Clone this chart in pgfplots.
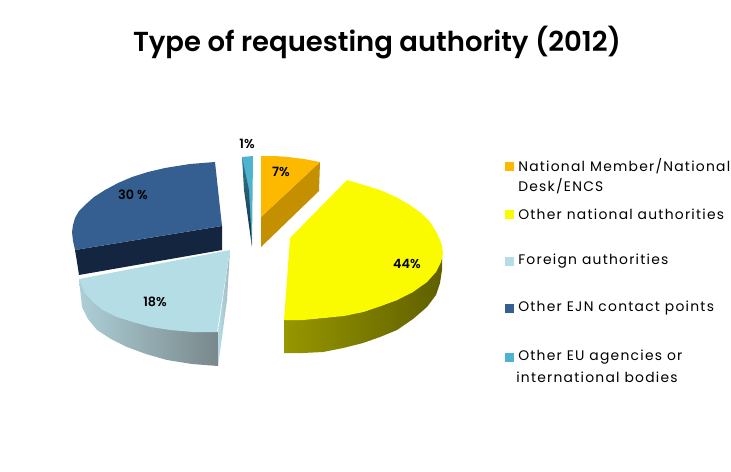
\documentclass[border=0pt]{standalone}
\usepackage{pgfplots}
\pgfplotsset{compat=1.18}
\usepackage{fontspec}
\setmainfont{Poppins}
\newfontfamily\titlefont{Poppins SemiBold}
\newfontfamily\legfont[LetterSpace=9]{Poppins}
\definecolor{cOrange}{HTML}{FDB900}
\definecolor{cOrangeS}{HTML}{C59000}
\definecolor{cYellow}{HTML}{FBFB00}
\definecolor{cLight}{HTML}{B5DDE6}
\definecolor{cBlue}{HTML}{355E91}
\definecolor{cBlueS}{HTML}{14253F}
\definecolor{cTeal}{HTML}{4DB3CF}
\begin{document}
\begin{tikzpicture}
\begin{axis}[
    scale only axis,
    width=548.25pt, height=353.25pt,
    xmin=0, xmax=731, ymin=0, ymax=471,
    y dir=reverse,
    hide axis,
    clip=false,
    every axis plot/.append style={draw=none, mark=none},
]
% keeps the page the size of the axis
\path (rel axis cs:0,0) rectangle (rel axis cs:1,1);
% dark blue slice (30%)
\addplot[fill=cBlueS] coordinates {
    (75,250) (222,226) (222,250) (79,275) (77,262) };
\addplot[fill=cBlue] coordinates {
    (215,162) (190,164) (165,168) (148,172) (132,177) (118,183) (105,190) (94,197)
    (85,205) (79,211) (75,218) (73,225) (72,232) (73,241) (75,250) (222,226) };
% light blue slice (18%), side first
\addplot[left color=cLight!85!gray, right color=cLight!45!gray!80!black] coordinates {
    (79,279) (82,307) (88,319) (97,330) (111,339) (127,347) (146,354) (167,360) (192,364) (218,366) (218,332) };
\addplot[left color=cLight, right color=cLight!60!gray] coordinates {
    (218,332) (218,366) (227,300) (230,250) };
\addplot[fill=cLight] coordinates {
    (230,250) (79,279) (85,293) (93,302) (103,310) (117,317) (133,322) (151,327) (170,330) (193,332) (217,332) };
% yellow slice (44%)
\addplot[left color=cYellow!60!black, right color=cYellow!38!black] coordinates {
    (284,320) (284,353) (303,353) (323,352) (343,348) (363,343) (380,337) (397,330) (413,319) (427,307)
    (436,295) (440,283) (442,270) (442,257) (427,282) (397,300) (363,312) (323,318) };
\addplot[fill=cYellow] coordinates {
    (347,180) (364,185) (380,190) (396,197) (410,205) (421,213) (430,222) (437,233) (442,245) (443,254) (441,262)
    (436,272) (427,282) (413,292) (397,300) (381,306) (363,312) (344,316) (323,318) (303,320) (284,320) (287,280) (290,238) };
% orange slice (7%)
\addplot[fill=cOrangeS] coordinates {
    (320,162) (319,191) (261,247) (261,217) };
\addplot[fill=cOrange] coordinates {
    (261,156) (275,156) (288,157) (304,159) (320,162) (261,217) };
% teal slice (1%)
\addplot[fill=cTeal] coordinates {
    (242,157) (253,156) (252,245) };
\addplot[top color=cTeal!70!black, bottom color=cBlueS] coordinates {
    (242,157) (244,190) (252,247) (249,190) };
% value labels
\tikzset{val/.style={font=\fontsize{9.6}{11}\selectfont\titlefont}}
\node[val] at (axis cs:247,144) {1\%};
\node[val] at (axis cs:281,172) {7\%};
\node[val] at (axis cs:407,264) {44\%};
\node[val] at (axis cs:155,302) {18\%};
\node[val] at (axis cs:133,195) {30 \%};
% legend
\addplot[only marks, mark=square*, mark size=3pt, mark options={draw=cOrange, fill=cOrange}] coordinates {(509,166)};
\addplot[only marks, mark=square*, mark size=3pt, mark options={draw=cYellow, fill=cYellow}] coordinates {(509,214)};
\addplot[only marks, mark=square*, mark size=3pt, mark options={draw=cLight, fill=cLight}] coordinates {(509,261)};
\addplot[only marks, mark=square*, mark size=3pt, mark options={draw=cBlue, fill=cBlue}] coordinates {(509,308)};
\addplot[only marks, mark=square*, mark size=3pt, mark options={draw=cTeal, fill=cTeal}] coordinates {(509,357)};
\tikzset{leg/.style={anchor=west, inner sep=0pt, font=\fontsize{10.4}{12}\selectfont\legfont}}
\node[leg] at (axis cs:518,166) {National Member/National};
\node[leg] at (axis cs:518,186) {Desk/ENCS};
\node[leg] at (axis cs:518,214) {Other national authorities};
\node[leg] at (axis cs:518,261) {Foreign authorities};
\node[leg] at (axis cs:518,308) {Other EJN contact points};
\node[leg] at (axis cs:518,357) {Other EU agencies or};
\node[leg] at (axis cs:516,377) {international bodies};
% title
\node[font=\fontsize{20.6}{24}\selectfont\titlefont] at (axis cs:377,43) {Type of requesting authority (2012)};
\end{axis}
\end{tikzpicture}
\end{document}
